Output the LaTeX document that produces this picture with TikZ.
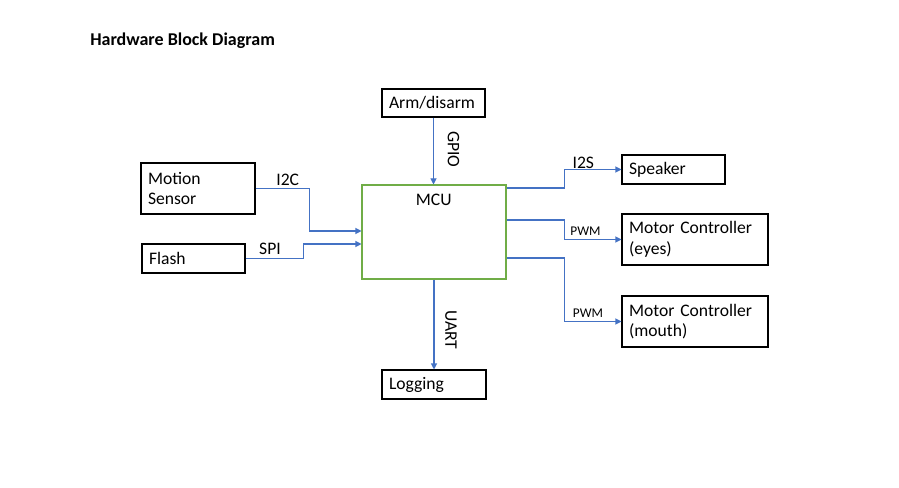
\documentclass[tikz,border=0pt]{standalone}
\usepackage{fontspec}
\setmainfont{Carlito}
\usetikzlibrary{arrows.meta}
\definecolor{lineblue}{HTML}{4472C4}
\definecolor{mcugreen}{HTML}{70AD47}
\begin{document}
\begin{tikzpicture}[x=0.75pt,y=-0.75pt,
  box/.style={draw=black,line width=0.8pt,rectangle,inner xsep=5.25pt,inner ysep=0pt,align=left,font=\fontsize{13.2}{15.5}\selectfont},
  conn/.style={draw=lineblue,line width=0.8pt,-{Triangle[length=4.5pt,width=4.5pt]}},
  lbl/.style={font=\fontsize{13.2}{15.5}\selectfont,inner sep=0pt},
  small/.style={font=\fontsize{10}{12}\selectfont,inner sep=0pt}]
\useasboundingbox[fill=white] (0,0) rectangle (899,488);

\node[lbl,anchor=base west,font=\fontsize{13.5}{15.5}\selectfont\bfseries] (title) at (90,46) {Hardware Block Diagram};

\node[box,text width=66.75pt,minimum height=21pt] (arm) at (433.5,103) {Arm/disarm};
\node[box,text width=75pt,minimum height=38.25pt] (motion) at (198,188.5) {Motion\\Sensor};
\node[box,text width=66.75pt,minimum height=21.75pt] (flash) at (193.5,258.5) {Flash};
\node[draw=mcugreen,line width=0.8pt,minimum width=108pt,minimum height=70.5pt,inner sep=0pt] (mcu) at (434,232) {};
\node[lbl,anchor=base] (mculbl) at (433.8,205.7) {MCU};
\node[box,text width=66.75pt,minimum height=21.75pt] (speaker) at (673.5,169.5) {Speaker};
\node[box,text width=99pt,minimum height=38.25pt] (eyes) at (695,239.5) {Motor Controller\\(eyes)};
\node[box,text width=99pt,minimum height=38.25pt] (mouth) at (695,321.5) {Motor Controller\\(mouth)};
\node[box,text width=67.5pt,minimum height=21.75pt] (logging) at (434,384.5) {Logging};

\draw[conn] (arm.south) -- (arm.south |- mcu.north);
\draw[conn] (motion.east) -- ++(54,0) |- ([yshift=0.75pt]mcu.west);
\draw[conn] (flash.east) -- ++(58,0) |- ([yshift=-9pt]mcu.west);
\draw[conn] ([yshift=33pt]mcu.east) -- ++(58,0) |- (speaker.west);
\draw[conn] ([yshift=9pt]mcu.east) -- ++(58,0) |- (eyes.west);
\draw[conn] ([yshift=-19.5pt]mcu.east) -- ++(58,0) |- (mouth.west);
\draw[conn] (mcu.south) -- (logging.north);

\node[lbl,rotate=-90] (gpio) at (453.5,149.5) {GPIO};
\node[lbl,rotate=-90] (uart) at (451,330) {UART};
\node[lbl,anchor=base] (i2c) at (287.7,186) {I2C};
\node[lbl,anchor=base] (spi) at (270,255) {SPI};
\node[lbl,anchor=base] (i2s) at (583.3,168.3) {I2S};
\node[small,anchor=base] (pwm1) at (585.5,235.7) {PWM};
\node[small,anchor=base] (pwm2) at (588,317.3) {PWM};
\end{tikzpicture}
\end{document}
